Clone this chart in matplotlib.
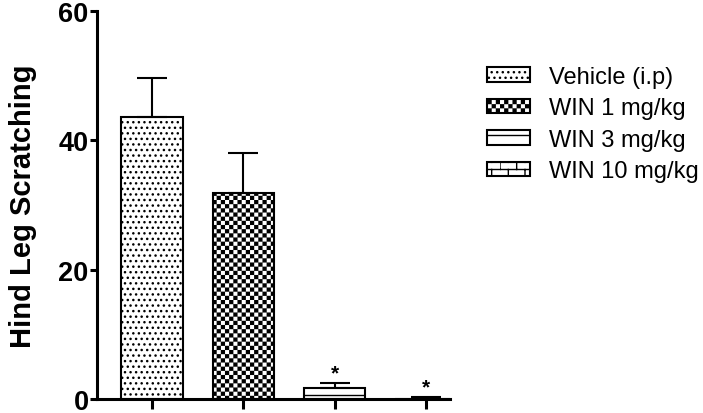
import numpy as np
import matplotlib
matplotlib.use('Agg')
import matplotlib.pyplot as plt
import matplotlib.hatch as mhatch
from matplotlib.path import Path

# ---- data ----
groups = ['Vehicle (i.p)', 'WIN 1 mg/kg', 'WIN 3 mg/kg', 'WIN 10 mg/kg']
means = [43.6, 31.8, 1.65, 0.05]
sems = [6.0, 6.3, 0.75, 0.25]
signif = ['', '', '*', '*']
yticks = [0, 20, 40, 60]
ylabel = 'Hind Leg Scratching'

plt.rcParams['font.family'] = ['Liberation Sans', 'DejaVu Sans']
plt.rcParams['hatch.linewidth'] = 1.0

MOV, LIN, CLS = Path.MOVETO, Path.LINETO, Path.CLOSEPOLY


class CheckerHatch(mhatch.HatchPatternBase):
    def __init__(self, hatch, density):
        self.n = 2 * ((hatch.count('O') * density) // 2)
        self.num_vertices = (self.n * self.n // 2) * 5

    def set_vertices_and_codes(self, vertices, codes):
        n = self.n
        a = 1.0 / n
        g = 0.013
        sq = np.array([[0, 0], [1, 0], [1, 1], [0, 1], [0, 0]], float) * (a - g) + g / 2
        parts = [sq + [i * a, j * a] for i in range(n) for j in range(n) if (i + j) % 2 == 0]
        vertices[:] = np.concatenate(parts)
        codes[:] = np.tile([MOV, LIN, LIN, LIN, CLS], len(parts))


class BrickHatch(mhatch.HatchPatternBase):
    offset = 0.305

    def __init__(self, hatch, density):
        self.nr = 14 if hatch.count('*') else 0
        self.nc = 6
        self.num_vertices = self.nr * 2 + self.nr * self.nc * 2

    def set_vertices_and_codes(self, vertices, codes):
        nr, nc = self.nr, self.nc
        v = []
        for r in range(nr):
            y0 = (self.offset + r / nr) % 1.0
            y1 = y0 + 1.0 / nr
            v += [[0, y0], [1, y0]]
            for k in range(nc):
                xx = (k + 0.5 * (r % 2)) / nc
                v += [[xx, y0], [xx, y1]]
        vertices[:] = np.array(v, float)
        codes[:] = [MOV, LIN] * (len(v) // 2)


class LineHatch(mhatch.HatchPatternBase):
    offset = 0.045

    def __init__(self, hatch, density):
        self.n = 5 if hatch.count('o') else 0
        self.num_vertices = self.n * 2

    def set_vertices_and_codes(self, vertices, codes):
        v = []
        for i in range(self.n):
            yy = self.offset + i / self.n
            v += [[0, yy], [1, yy]]
        vertices[:] = np.array(v, float)
        codes[:] = [MOV, LIN] * self.n


ht = mhatch._hatch_types
ht[ht.index(mhatch.SmallCircles)] = LineHatch
ht[ht.index(mhatch.LargeCircles)] = CheckerHatch
ht[ht.index(mhatch.Stars)] = BrickHatch

hatches = ['...', 'OOOO', 'o', '*']

fig = plt.figure(figsize=(7.03, 4.14), dpi=100)
ax = fig.add_axes([97 / 703, 14 / 414, 353 / 703, 388 / 414])

x = np.arange(len(groups))
bars = ax.bar(x, means, width=0.67, color='white', edgecolor='black',
              linewidth=1.5, zorder=2)
for p, h, lab in zip(bars.patches, hatches, groups):
    p.set_hatch(h)
    p.set_label(lab)

ax.errorbar(x, means, yerr=[np.zeros(len(sems)), sems], fmt='none',
            ecolor='black', elinewidth=1.5, capsize=11, capthick=1.5, zorder=3)

for xi, m, s, t in zip(x, means, sems, signif):
    if t:
        ax.annotate(t, (xi, m + s), xytext=(0, 0.5), textcoords='offset points',
                    ha='center', va='bottom', fontsize=15, fontweight='bold')

ax.set_xlim(-0.602, 3.263)
ax.set_ylim(0, 60)
ax.set_yticks(yticks)
ax.set_yticklabels([str(v) for v in yticks], fontsize=19.5, fontweight='bold')
ax.set_xticks(x)
ax.set_xticklabels([])
ax.tick_params(axis='y', length=5, width=2.2, pad=1)
ax.tick_params(axis='x', length=7, width=2.2)
for sp in ['top', 'right']:
    ax.spines[sp].set_visible(False)
for sp in ['left', 'bottom']:
    ax.spines[sp].set_linewidth(2.2)

ax.set_ylabel(ylabel, fontsize=21, fontweight='bold')
ax.yaxis.set_label_coords(-0.17, 0.5)

fig.legend(handles=bars.patches, labels=groups, loc='upper left',
           bbox_to_anchor=(487 / 703, 1 - 67 / 414), frameon=False,
           fontsize=17, handlelength=1.82, handleheight=0.56,
           handletextpad=0.8, labelspacing=0.4, borderpad=0,
           borderaxespad=0)

fig.savefig('out.png', dpi=100)
